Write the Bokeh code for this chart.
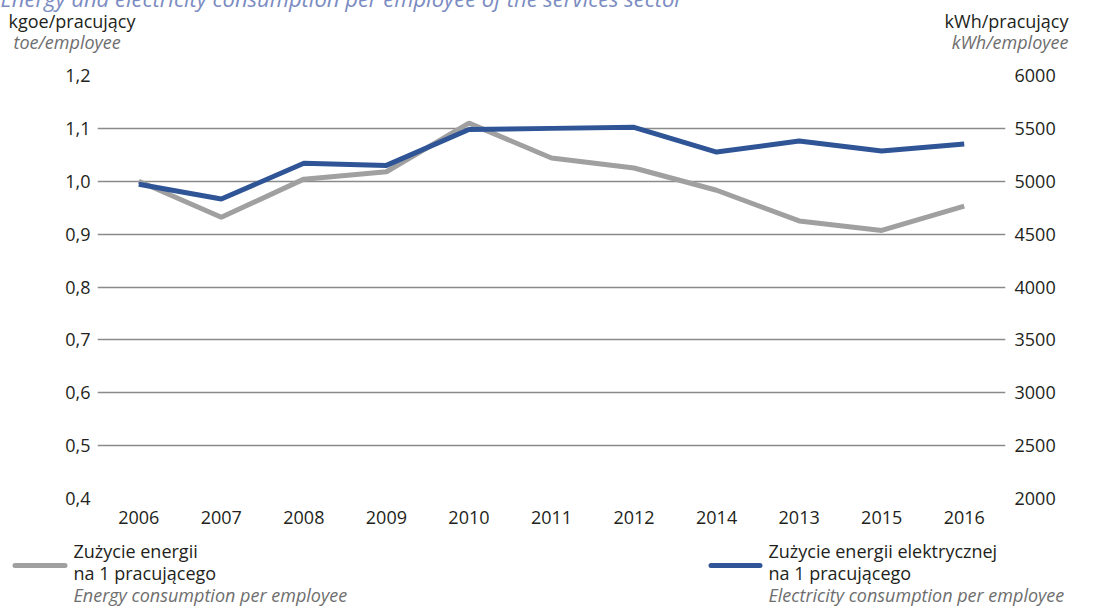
from bokeh.plotting import figure
from bokeh.models import Range1d, LinearAxis, FixedTicker, FactorRange
from bokeh.layouts import column
from bokeh.core.properties import value
from bokeh.embed import file_html
from bokeh.resources import INLINE

# ---- data ----
years = ["2006", "2007", "2008", "2009", "2010", "2011", "2012", "2014", "2013", "2015", "2016"]
energy = [1.000, 0.932, 1.004, 1.018, 1.110, 1.044, 1.025, 0.983, 0.925, 0.907, 0.953]
electricity = [4972, 4832, 5170, 5150, 5490, 5500, 5510, 5276, 5380, 5287, 5352]
left_ticks = [0.4, 0.5, 0.6, 0.7, 0.8, 0.9, 1.0, 1.1, 1.2]
left_tick_labels = ["0,4", "0,5", "0,6", "0,7", "0,8", "0,9", "1,0", "1,1", "1,2"]
right_ticks = [2000, 2500, 3000, 3500, 4000, 4500, 5000, 5500, 6000]

title_text = "Energy and electricity consumption per employee of the services sector"
left_unit = ["kgoe/pracujący", "toe/employee"]
right_unit = ["kWh/pracujący", "kWh/employee"]
energy_name = ["Zużycie energii", "na 1 pracującego", "Energy consumption per employee"]
elec_name = ["Zużycie energii elektrycznej", " na 1 pracującego", "Electricity consumption per employee"]

GRAY = "#a0a0a0"
BLUE = "#2f5596"
TEXT = "#231f20"
SUB = "#6e6e6e"
TITLE_C = "#7b8cc2"
FONT = "Open Sans"

OFF = 8                      # layout is shifted by -8 px on the page
W = 1103 + OFF
TOP_END, MAIN_END = 62, 535  # page y where the strips meet
TOP_H = TOP_END + OFF
MAIN_H = MAIN_END - TOP_END
BOT_H = 609 + OFF - MAIN_END
FL, FR, FT, FB = 97, 1005, 75, 498  # frame edges, page pixels


def strip(h):
    f = figure(width=W, height=h, x_range=Range1d(0, W), y_range=Range1d(h, 0),
               x_axis_type=None, y_axis_type=None, output_backend="svg",
               toolbar_location=None, min_border_left=0, min_border_right=0,
               min_border_top=0, min_border_bottom=0, frame_align=False)
    f.grid.visible = False
    f.outline_line_color = None
    return f


def txt(f, texts, xs, ys, align="left", italic=False, color=TEXT, size=18):
    shift = 0.42 * size  # the text glyph sits lower than the requested baseline
    f.text(x=xs, y=[v - shift for v in ys], text=texts, text_align=align,
           text_baseline="alphabetic", text_font=value(FONT),
           text_font_size=value(f"{size}px"), text_color=color,
           text_font_style="italic" if italic else "normal")


# ---- top strip: title + unit labels (page y -> canvas y + OFF) ----
top = strip(TOP_H)
txt(top, [title_text], [0 + OFF], [7 + OFF], italic=True, color=TITLE_C, size=22)
txt(top, [left_unit[0]], [8 + OFF], [28 + OFF])
txt(top, [left_unit[1]], [13 + OFF], [49 + OFF], italic=True, color=SUB)
txt(top, [right_unit[0]], [1068 + OFF], [28 + OFF], align="right")
txt(top, [right_unit[1]], [1068 + OFF], [49 + OFF], align="right", italic=True, color=SUB)

# ---- main chart ----
p = figure(width=W, height=MAIN_H, x_range=FactorRange(*years), y_range=Range1d(0.4, 1.2),
           output_backend="svg", toolbar_location=None, frame_align=False,
           min_border_left=FL + OFF, min_border_right=W - (FR + OFF),
           min_border_top=FT - TOP_END, min_border_bottom=MAIN_END - FB)
p.outline_line_color = None
p.extra_y_ranges = {"el": Range1d(2000, 6000)}

p.xgrid.visible = False
p.ygrid.ticker = FixedTicker(ticks=left_ticks)
p.ygrid.grid_line_color = "#8a8a8a"
p.ygrid.grid_line_width = 1.3


def style_axis(ax, standoff):
    ax.axis_line_color = None
    ax.major_tick_line_color = None
    ax.minor_tick_line_color = None
    ax.major_tick_out = 0
    ax.major_tick_in = 0
    ax.major_label_standoff = standoff
    ax.major_label_text_font = FONT
    ax.major_label_text_font_size = "18px"
    ax.major_label_text_color = TEXT


p.yaxis.ticker = FixedTicker(ticks=left_ticks)
p.yaxis.major_label_overrides = dict(zip(left_ticks, left_tick_labels))
style_axis(p.yaxis[0], 7)
style_axis(p.xaxis[0], 12)

rax = LinearAxis(y_range_name="el", ticker=FixedTicker(ticks=right_ticks))
style_axis(rax, 9)
p.add_layout(rax, "right")

p.line(years, energy, line_color=GRAY, line_width=5)
p.line(years, electricity, line_color=BLUE, line_width=5, y_range_name="el")

# ---- bottom strip: legend (page y -> canvas y - MAIN_END) ----
bot = strip(BOT_H)
b = lambda py: py - MAIN_END
bot.line([14.5 + OFF, 64.5 + OFF], [b(565), b(565)], line_color=GRAY, line_width=5, line_cap="round")
txt(bot, energy_name[:2], [73 + OFF] * 2, [b(558), b(580)])
txt(bot, [energy_name[2]], [73 + OFF], [b(602)], italic=True, color=SUB)

bot.line([710.5 + OFF, 759.5 + OFF], [b(565), b(565)], line_color=BLUE, line_width=5, line_cap="round")
txt(bot, elec_name[:2], [768 + OFF] * 2, [b(558), b(580)])
txt(bot, [elec_name[2]], [768 + OFF], [b(602)], italic=True, color=SUB)

layout = column(top, p, bot, spacing=0, margin=(-8, -8, -8, -8))

open("out.html", "w").write(file_html(layout, INLINE))
